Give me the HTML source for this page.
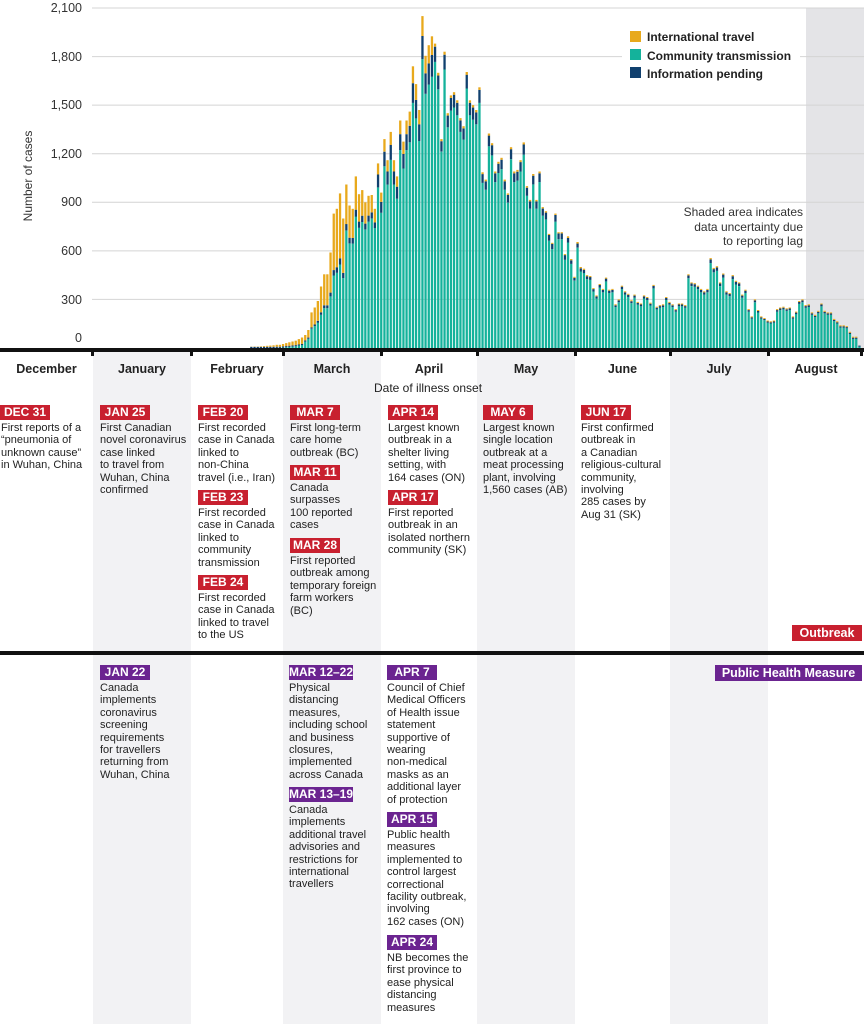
<!DOCTYPE html>
<html><head><meta charset="utf-8">
<style>
body{margin:0;width:864px;height:1024px;position:relative;overflow:hidden;background:#fff;font-family:"Liberation Sans",Arial,sans-serif;color:#222}
.col{position:absolute;top:352px;height:672px;background:#f2f2f4}
.m{position:absolute;top:362px;font-weight:bold;font-size:12.5px;text-align:center;color:#222}
.lab{position:absolute;height:15px;line-height:15px;color:#fff;font-weight:bold;font-size:12px;text-align:center;width:50px;white-space:nowrap}
.r{background:#c8202f}.p{background:#6b2490}
.t{position:absolute;font-size:11px;line-height:12.4px;color:#222;white-space:nowrap}
</style></head><body>
<div class="col" style="left:93px;width:98px"></div>
<div class="col" style="left:283px;width:98px"></div>
<div class="col" style="left:477px;width:98px"></div>
<div class="col" style="left:670px;width:98px"></div>
<svg id="ch" width="864" height="360" style="position:absolute;left:0;top:0" xmlns="http://www.w3.org/2000/svg">
<rect x="806" y="8" width="58" height="340" fill="#e4e4e7"/>
<g stroke="#d4d4d4" stroke-width="1">
<line x1="92" x2="864" y1="8" y2="8"/><line x1="92" x2="864" y1="56.6" y2="56.6"/><line x1="92" x2="864" y1="105.1" y2="105.1"/><line x1="92" x2="864" y1="153.7" y2="153.7"/><line x1="92" x2="864" y1="202.3" y2="202.3"/><line x1="92" x2="864" y1="250.9" y2="250.9"/><line x1="92" x2="864" y1="299.4" y2="299.4"/>
</g>
<rect x="622" y="28" width="178" height="56" fill="#fff"/>
<g font-size="12.5" fill="#333" text-anchor="end">
<text x="82" y="12">2,100</text><text x="82" y="61">1,800</text><text x="82" y="109">1,500</text><text x="82" y="158">1,200</text><text x="82" y="206">900</text><text x="82" y="255">600</text><text x="82" y="304">300</text><text x="82" y="342">0</text>
</g>
<text transform="translate(32,176) rotate(-90)" font-size="12" fill="#333" text-anchor="middle">Number of cases</text>
<g id="bars"></g>
<rect x="630" y="31" width="11" height="11" fill="#e8a91c"/><rect x="630" y="49" width="11" height="11" fill="#14b29b"/><rect x="630" y="67" width="11" height="11" fill="#10406e"/>
<g font-size="12" font-weight="bold" fill="#222"><text x="647" y="41">International travel</text><text x="647" y="60">Community transmission</text><text x="647" y="78">Information pending</text></g>
<g font-size="12" fill="#333" text-anchor="end"><text x="803" y="216">Shaded area indicates</text><text x="803" y="231">data uncertainty due</text><text x="803" y="245">to reporting lag</text></g>
<rect x="0" y="348" width="864" height="4" fill="#111"/>
<g fill="#111"><rect x="91" y="348" width="3" height="8"/><rect x="190" y="348" width="3" height="8"/><rect x="282" y="348" width="3" height="8"/><rect x="380" y="348" width="3" height="8"/><rect x="476" y="348" width="3" height="8"/><rect x="574" y="348" width="3" height="8"/><rect x="669" y="348" width="3" height="8"/><rect x="767" y="348" width="3" height="8"/><rect x="860" y="348" width="3" height="8"/></g>
</svg>
<div class="m" style="left:0;width:93px">December</div>
<div class="m" style="left:93px;width:98px">January</div>
<div class="m" style="left:191px;width:92px">February</div>
<div class="m" style="left:283px;width:98px">March</div>
<div class="m" style="left:381px;width:96px">April</div>
<div class="m" style="left:477px;width:98px">May</div>
<div class="m" style="left:575px;width:95px">June</div>
<div class="m" style="left:670px;width:98px">July</div>
<div class="m" style="left:768px;width:96px">August</div>
<div class="t" style="left:374px;top:382px;font-size:12px">Date of illness onset</div>

<div class="lab r" style="left:0;top:405px">DEC 31</div>
<div class="t" style="left:1px;top:422px">First reports of a<br>“pneumonia of<br>unknown cause”<br>in Wuhan, China</div>
<div class="lab r" style="left:100px;top:405px">JAN 25</div>
<div class="t" style="left:100px;top:422px">First Canadian<br>novel coronavirus<br>case linked<br>to travel from<br>Wuhan, China<br>confirmed</div>
<div class="lab r" style="left:198px;top:405px">FEB 20</div>
<div class="t" style="left:198px;top:422px">First recorded<br>case in Canada<br>linked to<br>non-China<br>travel (i.e., Iran)</div>
<div class="lab r" style="left:198px;top:490px">FEB 23</div>
<div class="t" style="left:198px;top:507px">First recorded<br>case in Canada<br>linked to<br>community<br>transmission</div>
<div class="lab r" style="left:198px;top:575px">FEB 24</div>
<div class="t" style="left:198px;top:592px">First recorded<br>case in Canada<br>linked to travel<br>to the US</div>
<div class="lab r" style="left:290px;top:405px">MAR 7</div>
<div class="t" style="left:290px;top:422px">First long-term<br>care home<br>outbreak (BC)</div>
<div class="lab r" style="left:290px;top:465px">MAR 11</div>
<div class="t" style="left:290px;top:482px">Canada<br>surpasses<br>100 reported<br>cases</div>
<div class="lab r" style="left:290px;top:538px">MAR 28</div>
<div class="t" style="left:290px;top:555px">First reported<br>outbreak among<br>temporary foreign<br>farm workers<br>(BC)</div>
<div class="lab r" style="left:388px;top:405px">APR 14</div>
<div class="t" style="left:388px;top:422px">Largest known<br>outbreak in a<br>shelter living<br>setting, with<br>164 cases (ON)</div>
<div class="lab r" style="left:388px;top:490px">APR 17</div>
<div class="t" style="left:388px;top:507px">First reported<br>outbreak in an<br>isolated northern<br>community (SK)</div>
<div class="lab r" style="left:483px;top:405px">MAY 6</div>
<div class="t" style="left:483px;top:422px">Largest known<br>single location<br>outbreak at a<br>meat processing<br>plant, involving<br>1,560 cases (AB)</div>
<div class="lab r" style="left:581px;top:405px">JUN 17</div>
<div class="t" style="left:581px;top:422px">First confirmed<br>outbreak in<br>a Canadian<br>religious-cultural<br>community,<br>involving<br>285 cases by<br>Aug 31 (SK)</div>
<div class="lab r" style="left:792px;top:625px;width:70px;font-size:12.5px;height:16px;line-height:16px">Outbreak</div>
<div style="position:absolute;left:0;top:651px;width:864px;height:4px;background:#111"></div>
<div class="lab p" style="left:715px;top:665px;width:147px;font-size:12.5px;height:16px;line-height:16px">Public Health Measure</div>

<div class="lab p" style="left:100px;top:665px">JAN 22</div>
<div class="t" style="left:100px;top:682px">Canada<br>implements<br>coronavirus<br>screening<br>requirements<br>for travellers<br>returning from<br>Wuhan, China</div>
<div class="lab p" style="left:289px;top:665px;width:64px">MAR 12–22</div>
<div class="t" style="left:289px;top:682px">Physical<br>distancing<br>measures,<br>including school<br>and business<br>closures,<br>implemented<br>across Canada</div>
<div class="lab p" style="left:289px;top:787px;width:64px">MAR 13–19</div>
<div class="t" style="left:289px;top:804px">Canada<br>implements<br>additional travel<br>advisories and<br>restrictions for<br>international<br>travellers</div>
<div class="lab p" style="left:387px;top:665px">APR 7</div>
<div class="t" style="left:387px;top:682px">Council of Chief<br>Medical Officers<br>of Health issue<br>statement<br>supportive of<br>wearing<br>non-medical<br>masks as an<br>additional layer<br>of protection</div>
<div class="lab p" style="left:387px;top:812px">APR 15</div>
<div class="t" style="left:387px;top:829px">Public health<br>measures<br>implemented to<br>control largest<br>correctional<br>facility outbreak,<br>involving<br>162 cases (ON)</div>
<div class="lab p" style="left:387px;top:935px">APR 24</div>
<div class="t" style="left:387px;top:952px">NB becomes the<br>first province to<br>ease physical<br>distancing<br>measures</div>

<script>
var v=[2,3,3,5,8,10,12,15,20,20,25,30,35,40,45,55,65,
80,111,220,250,290,380,455,455,590,830,860,955,800,1010,880,860,1060,950,975,900,940,945,860,1140,960,1290,1160,1335,1160,1060,1405,1275,1405,1460,1740,1630,1470,2050,1805,1870,1925,
1880,1700,1290,1830,1450,1560,1580,1530,1420,1370,1705,1530,1500,1470,1610,1085,1040,1325,1265,1090,1150,1175,1040,955,1240,1090,1100,1160,1270,1000,915,1075,915,1090,870,845,705,650,830,715,715,580,690,550,440,655,500,490,450,445,370,325,395,365,435,360,365,270,300,385,350,335,295,330,285,275,325,315,280,390,255,265,270,315,285,270,240,275,275,265,455,405,400,385,365,350,365,555,495,505,405,460,350,340,450,415,405,330,360,240,195,300,235,195,185,170,165,170,240,250,255,245,250,195,225,290,300,265,270,220,205,230,275,230,220,220,180,165,140,140,135,100,70,70,15];
var n=v.length,endX=858.3,step=3.167,s=340/2100,h='';
for(var i=0;i<n;i++){var x=endX-(n-1-i)*step,t=v[i],fi,fp;
if(i<17){fi=0.6;fp=0.05}else if(i<40){fi=0.45-(i-17)*0.016;fp=0.04}else if(i<58){fi=0.06;fp=0.07}else if(i<100){fi=0.01;fp=0.05}else{fi=0.015;fp=0.04}
if(i>=17&&i<30)fi=0.42;
var H=t*s,hi=Math.max(H*fi,t>50?1:0),hp=Math.max(H*fp,1.2),hc=H-hi-hp;if(hc<0)hc=0;
var y=348-hc;
h+='<rect x="'+x.toFixed(1)+'" y="'+y.toFixed(1)+'" width="2.3" height="'+hc.toFixed(1)+'" fill="#14b29b"/>';
h+='<rect x="'+x.toFixed(1)+'" y="'+(y-hp).toFixed(1)+'" width="2.3" height="'+hp.toFixed(1)+'" fill="#10406e"/>';
if(hi>0)h+='<rect x="'+x.toFixed(1)+'" y="'+(y-hp-hi).toFixed(1)+'" width="2.3" height="'+hi.toFixed(1)+'" fill="#e8a91c"/>';}
document.getElementById('bars').innerHTML=h;
</script>
</body></html>
